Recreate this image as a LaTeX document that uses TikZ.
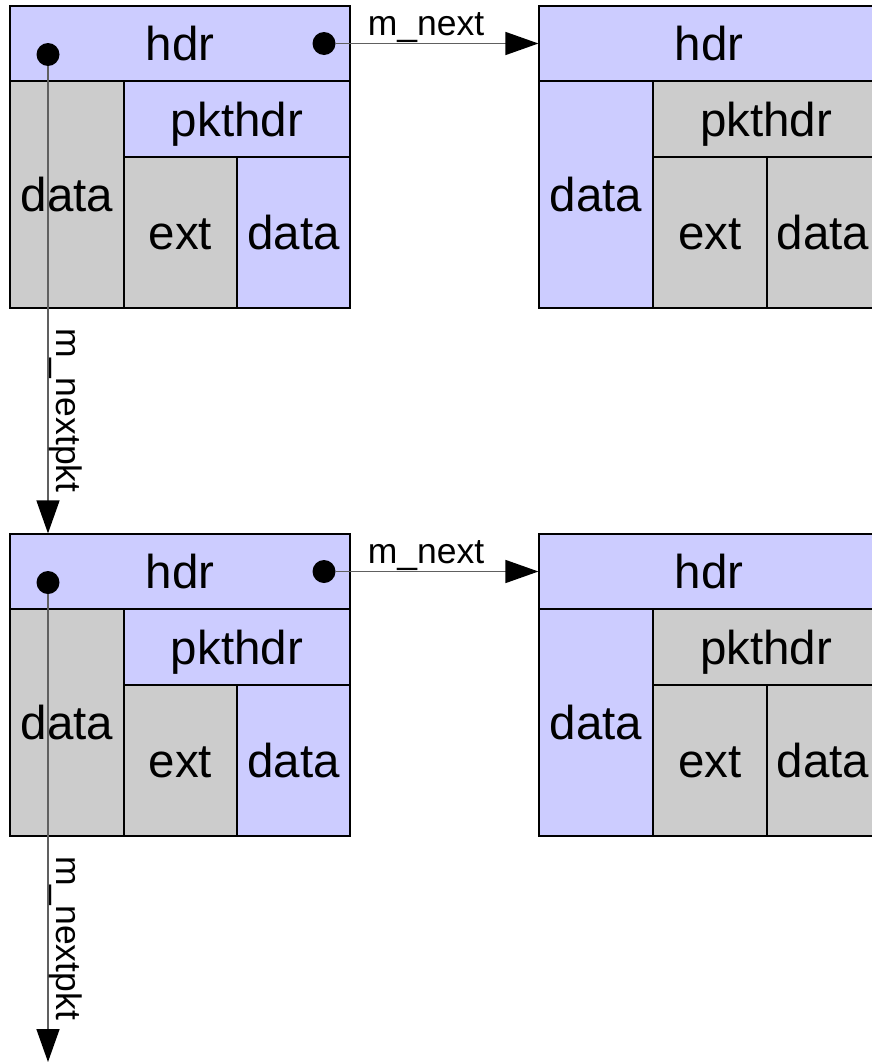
\documentclass[tikz,border=0pt]{standalone}
\usepackage{fontspec}
\setmainfont{Liberation Sans}
\usetikzlibrary{arrows.meta}
\definecolor{hdrblue}{HTML}{CCCCFF}
\definecolor{cellgray}{HTML}{CCCCCC}
\definecolor{linkgray}{HTML}{606060}
\begin{document}
\begin{tikzpicture}[x=1pt,y=-1pt,
  cell/.style={draw=black, line width=1.2pt, inner sep=0pt,
    font=\fontsize{47.5}{47.5}\selectfont, text height=34pt, text depth=0pt},
  bluecell/.style={cell, fill=hdrblue},
  graycell/.style={cell, fill=cellgray},
  dot/.style={circle, fill=black, inner sep=0pt, minimum size=23pt},
  link/.style={draw=linkgray, line width=1.5pt,
    -{Triangle[length=33pt, width=23pt, color=black]}},
  lbl/.style={font=\fontsize{35.5}{35.5}\selectfont, inner sep=0pt, anchor=south}]
\useasboundingbox (0,0) rectangle (872,1063);
\clip (0,0) rectangle (872,1063);

% two rows, each: an mbuf with a packet header and the mbuf it chains to
\foreach \r/\dy in {a/0,b/528}{
  % mbuf holding the packet header
  \node[bluecell, minimum width=340pt, minimum height=75pt]  (\r-hdr)    at (180,{43.5+\dy})   {hdr};
  \node[graycell, minimum width=114pt, minimum height=227pt] (\r-data)   at (67,{194.5+\dy})   {data};
  \node[bluecell, minimum width=226pt, minimum height=76pt]  (\r-pkthdr) at (237,{119+\dy})    {pkthdr};
  \node[graycell, minimum width=113pt, minimum height=151pt] (\r-ext)    at (180.5,{232.5+\dy}) {ext};
  \node[bluecell, minimum width=113pt, minimum height=151pt] (\r-edata)  at (293.5,{232.5+\dy}) {data};
  % next mbuf of the same packet
  \node[bluecell, minimum width=340pt, minimum height=75pt]  (\r-hdr2)    at (709,{43.5+\dy})  {hdr};
  \node[bluecell, minimum width=114pt, minimum height=227pt] (\r-data2)   at (596,{194.5+\dy}) {data};
  \node[graycell, minimum width=226pt, minimum height=76pt]  (\r-pkthdr2) at (766,{119+\dy})   {pkthdr};
  \node[graycell, minimum width=114pt, minimum height=151pt] (\r-ext2)    at (710,{232.5+\dy}) {ext};
  \node[graycell, minimum width=112pt, minimum height=151pt] (\r-edata2)  at (823,{232.5+\dy}) {data};
  % pointer origins in the header
  \node[dot] (\r-pdot) at (48,{54.5+\dy}) {};
  \node[dot] (\r-ndot) at (324,{43.5+\dy}) {};
}

\coordinate (tail) at (48,1062);

% m_next pointers
\draw[link] (a-ndot) -- node[lbl, pos=0.446] {m\_next} (a-hdr2.west);
\draw[link] (b-ndot) -- node[lbl, pos=0.446] {m\_next} (b-hdr2.west);

% m_nextpkt pointers
\draw[link] (a-pdot) -- node[lbl, pos=0.737, rotate=-90] {m\_nextpkt} (b-hdr.north -| a-pdot);
\draw[link] (b-pdot) -- node[lbl, pos=0.735, rotate=-90] {m\_nextpkt} (tail);
\end{tikzpicture}
\end{document}
